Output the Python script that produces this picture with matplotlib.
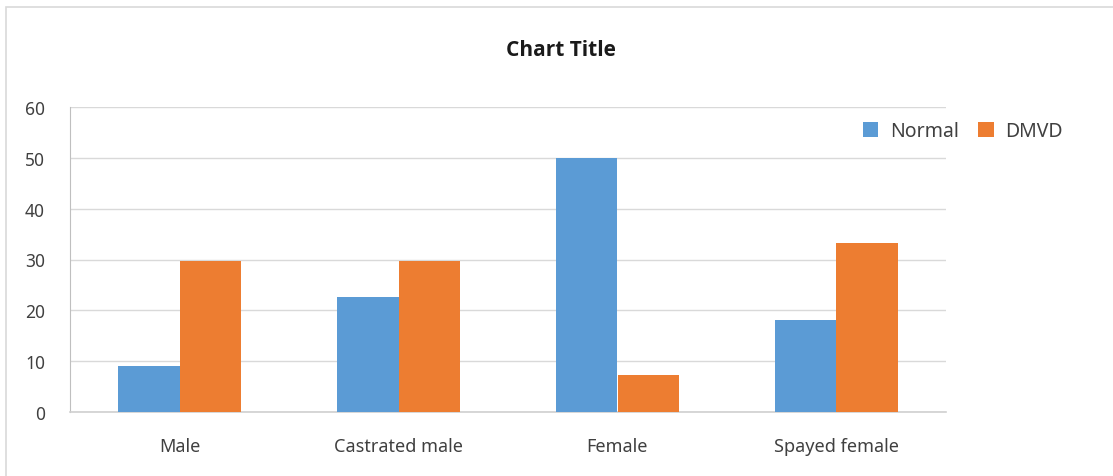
import numpy as np
import matplotlib.pyplot as plt
from matplotlib.patches import Rectangle

plt.rcParams['font.family'] = ['Noto Sans', 'DejaVu Sans']

categories = ['Male', 'Castrated male', 'Female', 'Spayed female']
normal = [9.1, 22.7, 50.0, 18.1]
dmvd = [29.7, 29.7, 7.3, 33.3]

blue = '#5b9bd5'
orange = '#ed7d31'
text_col = '#404040'

fig = plt.figure(figsize=(11.13, 4.77), dpi=100)
# chart frame
fig.patches.append(Rectangle((6 / 1113, -0.02), 1.05, 1 - 8 / 477 + 0.02,
                             transform=fig.transFigure, fill=False,
                             edgecolor='#d9d9d9', linewidth=1.2))

ax = fig.add_axes([70 / 1113, 1 - 413 / 477, 876 / 1113, 305 / 477])
x = np.arange(len(categories))
w = 0.283
ax.bar(x - w / 2, normal, w, color=blue, label='Normal', zorder=3)
ax.bar(x + w / 2, dmvd, w, color=orange, label='DMVD', zorder=3)

ax.set_xlim(-0.5, len(categories) - 0.5)
ax.set_ylim(0, 60)
ax.set_yticks(range(0, 61, 10))
ax.set_xticks(x)
ax.set_xticklabels(categories)
ax.grid(axis='y', color='#d9d9d9', linewidth=1, zorder=0)
for s in ['top', 'right']:
    ax.spines[s].set_visible(False)
ax.spines['left'].set_color('#bfbfbf')
ax.spines['bottom'].set_color('#d0d0d0')
ax.spines['bottom'].set_linewidth(1.2)
ax.tick_params(axis='both', length=0, colors=text_col)
ax.tick_params(axis='x', pad=18, labelsize=13)
ax.tick_params(axis='y', pad=18, labelsize=12.5)

fig.text(561 / 1113, 1 - 50 / 477, 'Chart Title', ha='center', va='center',
         fontsize=15, fontweight='bold', color='#1a1a1a',
         family=['Open Sans', 'DejaVu Sans'])

fig.legend(loc='center left', bbox_to_anchor=(845 / 1113, 1 - 132 / 477),
           ncol=2, frameon=False, fontsize=14, handlelength=0.8,
           handleheight=0.8, handletextpad=0.6, columnspacing=1.0,
           labelcolor=text_col)

fig.savefig('out.png', dpi=100)
